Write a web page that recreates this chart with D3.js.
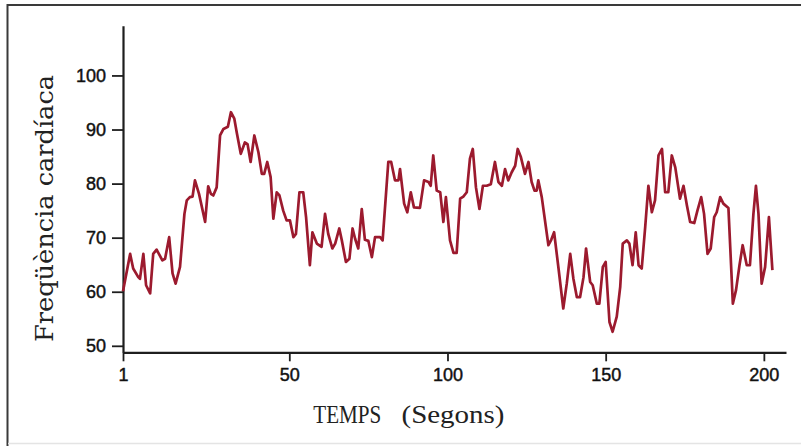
<!DOCTYPE html>
<html>
<head>
<meta charset="utf-8">
<script src="https://cdn.jsdelivr.net/npm/d3@7"></script>
<style>
  body { margin: 0; background: #fff; }
  svg { display: block; }
</style>
</head>
<body>
<svg width="801" height="446"></svg>
<script>
// heart rate trace (seconds, beats/min)
const secs = [1, 3.1, 4, 5.5, 6, 7, 7.8, 9, 9.9, 10.9, 12.6, 13.4, 14.6, 15.6, 16.5, 17.8,
  19.1, 19.8, 20.7, 21.5, 22.2, 23.4, 25.2, 26.1, 26.9, 27.6, 28.6, 29.6, 30.6, 31.9,
  32.8, 33.8, 34.5, 35.7, 36.9, 37.7, 38.6, 39.7, 40.9, 41.9, 42.6, 43.5, 44.5, 45.3,
  46.3, 47.1, 48.2, 49.2, 50.2, 51.3, 52.1, 53.2, 54.4, 55.3, 56.5, 57.3, 58.7, 60.2,
  61.3, 62.3, 63.6, 64.5, 65.8, 66.6, 67.9, 69, 70, 70.8, 71.8, 72.9, 73.9, 75, 76.1,
  77.1, 78.7, 79.5, 81.3, 82.2, 83.4, 84.5, 85, 86.3, 87.3, 88.4, 89.4, 91.3, 92.6, 94,
  94.7, 95.5, 96.6, 97.7, 98.7, 99.5, 100.8, 101.9, 102.9, 104, 105, 106.1, 107.1, 108,
  109, 110.1, 111.2, 112.4, 113.7, 115, 116.1, 117.2, 118.2, 119.2, 120.3, 121.4, 122.2,
  123.2, 124.5, 125.6, 126.6, 127.5, 128.2, 128.7, 129.8, 131.9, 132.8, 133.7, 135.1,
  136.6, 137.7, 138.8, 139.8, 140.9, 141.9, 143, 143.8, 145.1, 145.9, 147.2, 148, 149.1,
  150, 151.2, 152.2, 153.5, 154.6, 155.4, 156.7, 157.5, 158.5, 159.5, 160.4, 161.4,
  162.5, 163.5, 164.6, 165.6, 166.7, 167.8, 168.8, 169.8, 170.9, 172, 173.5, 174.6,
  175.7, 176.7, 178, 179, 180.2, 181.1, 182.2, 183.2, 184.3, 185.1, 186.2, 187.2, 188.8,
  190.2, 191.2, 192.3, 193.3, 194.6, 195.6, 196.7, 197.5, 198.3, 199.3, 200.4, 201.6, 202.7];
const bpm = [60.1, 67, 64.3, 62.7, 62.4, 67, 61.2, 59.7, 67, 67.8, 65.8, 66.1, 70.1, 63.4,
  61.5, 64.6, 74.4, 76.9, 77.5, 77.6, 80.6, 78.1, 72.9, 79.5, 78.1, 77.8, 79.3, 88.9, 90.1,
  90.5, 93.2, 92, 89.5, 85.5, 87.6, 87.3, 84, 88.9, 85.8, 81.8, 81.8, 84, 81.2, 73.5, 78.4,
  77.8, 75, 73.2, 73.2, 70.1, 70.7, 78.4, 78.4, 73.8, 64.9, 71, 68.9, 68.3, 74.4, 70.7, 68,
  68.9, 71.7, 69.5, 65.5, 66.1, 71.7, 69.8, 68, 75.3, 69.6, 69.4, 66.4, 70.1, 70.1, 69.5,
  84, 84, 80.6, 80.6, 82.7, 76.3, 74.7, 78.4, 75.6, 75.5, 80.6, 80.3, 79.6, 85.2, 78.7,
  78.4, 72.9, 77.5, 69.5, 67.2, 67.2, 77.2, 77.6, 78.4, 84.6, 86.4, 79.3, 75.3, 79.6, 79.6,
  79.9, 84, 80.3, 79.6, 82.7, 80.6, 82.1, 83.3, 86.4, 84.9, 81.8, 84, 80.3, 78.7, 78.7,
  80.6, 77.5, 68.6, 69.6, 71, 64.3, 56.9, 61.5, 67, 62.4, 59, 59, 62.7, 68, 61.8, 61.2,
  57.8, 57.8, 64.6, 65.5, 54.4, 52.6, 55.4, 60.9, 68.9, 69.5, 68.9, 64.9, 71, 64.9, 64.3,
  72, 79.6, 74.7, 76.9, 85.2, 86.4, 78.4, 78.4, 85.2, 83, 77.2, 79.6, 75.9, 72.9, 72.7,
  75, 77.5, 74.4, 67, 68, 73.8, 74.7, 77.5, 76.3, 75.5, 57.8, 60.3, 64.9, 68.6, 64.9, 64.9,
  74.4, 79.6, 74.4, 61.5, 64.6, 73.8, 64];

const xTicks = [1, 50, 100, 150, 200];
const yTicks = [50, 60, 70, 80, 90, 100];

const svg = d3.select("svg");

// frame round the picture
svg.append("path")
  .attr("d", "M7.5,446V5H801")
  .attr("fill", "none").attr("stroke", "#3a3a3a").attr("stroke-width", 2);
svg.append("line")
  .attr("x1", 8).attr("x2", 801).attr("y1", 443.5).attr("y2", 443.5)
  .attr("stroke", "#e4e4e4").attr("stroke-width", 1.5);

// the printed axis is not quite even between 1 and 50, so the scale has a knot there
let scX = d3.scaleLinear()
            .domain([1, 50, 207])
            .range([123, 289.3, 786]);
let scY = d3.scaleLinear()
            .domain([48.8, 109.2])
            .range([352.3, 25.7]);

let xAxis = svg.append("g")
  .attr("transform", "translate(0,352.3)")
  .call(d3.axisBottom(scX).tickValues(xTicks).tickFormat(d3.format("d"))
          .tickSize(9).tickSizeOuter(0).tickPadding(6));
let yAxis = svg.append("g")
  .attr("transform", "translate(123,0)")
  .call(d3.axisLeft(scY).tickValues(yTicks).tickSize(11).tickSizeOuter(0).tickPadding(6));

[xAxis, yAxis].forEach(g => {
  g.select(".domain").attr("stroke", "#1e1e1e").attr("stroke-width", 2.2);
  g.selectAll(".tick line").attr("stroke", "#1e1e1e").attr("stroke-width", 1.8);
  g.selectAll(".tick text")
    .attr("fill", "#111").attr("stroke", "#111").attr("stroke-width", 0.45)
    .style("font-family", "'Liberation Sans', Arial, sans-serif")
    .style("font-size", "18px");
});
xAxis.selectAll(".tick text").attr("dy", "0.75em");

// heart rate line
let lineMaker = d3.line()
                  .x((d, i) => scX(secs[i]))
                  .y(d => scY(d));
svg.append("path")
  .attr("fill", "none").attr("stroke", "#9c1a2e")
  .attr("stroke-width", 2.7).attr("stroke-linejoin", "round")
  .attr("d", lineMaker(bpm));

// axis titles
svg.append("text")
  .attr("transform", "translate(53,208.5) rotate(-90)")
  .attr("text-anchor", "middle")
  .attr("fill", "#222")
  .attr("textLength", 267).attr("lengthAdjust", "spacingAndGlyphs")
  .style("font-family", "'DejaVu Serif', 'Liberation Serif', serif")
  .style("font-size", "24px")
  .text("Freqüència cardíaca");

let xt = svg.append("g")
  .attr("fill", "#222")
  .style("font-family", "'Liberation Serif', serif")
  .style("font-size", "26px");
xt.append("text")
  .attr("x", 313.3).attr("y", 423)
  .attr("textLength", 68).attr("lengthAdjust", "spacingAndGlyphs")
  .text("TEMPS");
xt.append("text")
  .attr("x", 401.5).attr("y", 423)
  .attr("textLength", 103).attr("lengthAdjust", "spacingAndGlyphs")
  .text("(Segons)");
</script>
</body>
</html>
